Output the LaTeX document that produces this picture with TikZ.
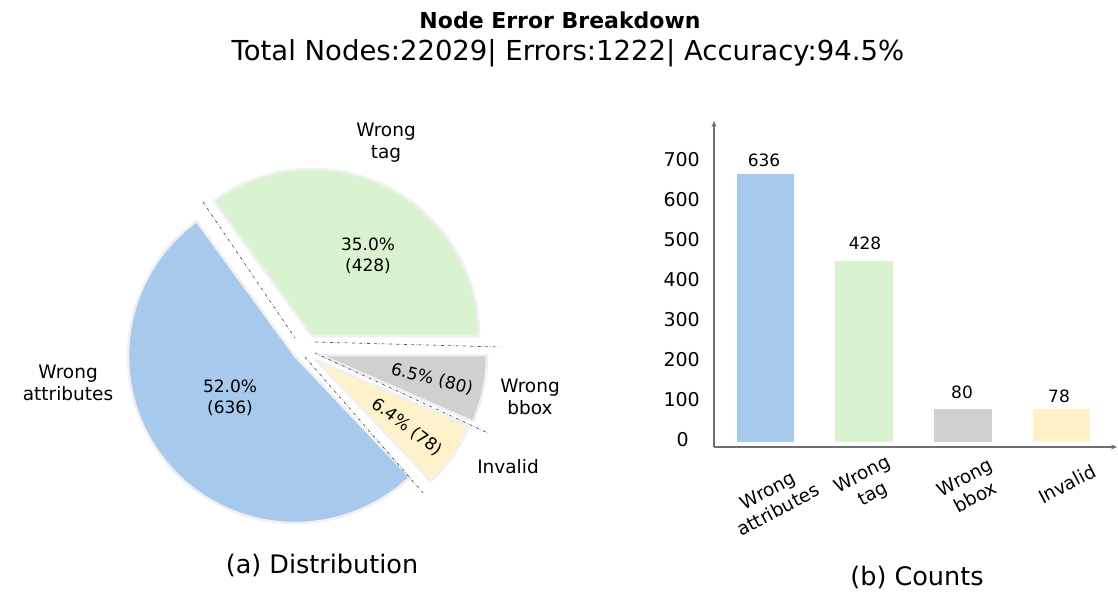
\documentclass[tikz,border=0pt]{standalone}
\usepackage{fontspec}
\setmainfont{DejaVu Sans}
\usetikzlibrary{arrows.meta}
\definecolor{cblue}{HTML}{A7C9EB}
\definecolor{cgreen}{HTML}{D9F2D0}
\definecolor{cgray}{HTML}{D0D0D0}
\definecolor{cyellow}{HTML}{FFF1CA}
\definecolor{caxis}{HTML}{6E6E6E}
\definecolor{cdash}{HTML}{555555}
\tikzset{
  lbl/.style={font=\fontsize{18.5}{22}\selectfont, align=center, inner sep=0pt},
  pct/.style={font=\fontsize{17}{21}\selectfont, align=center, inner sep=0pt},
  ticklbl/.style={font=\fontsize{19}{20}\selectfont, anchor=east, inner sep=0pt},
  captext/.style={font=\fontsize{25.5}{28}\selectfont, inner sep=0pt},
  sepline/.style={cdash, dash dot, line width=0.7pt},
  wedge/.style={draw=black!6, line width=2.5pt, line join=round},
  axisline/.style={caxis, line width=1.4pt, -{Stealth[length=6pt,width=5pt]}}
}
\begin{document}
\begin{tikzpicture}[x=1pt,y=-1pt]
\useasboundingbox (0,0) rectangle (1118,594);
\fill[white] (0,0) rectangle (1118,594);

% titles
\node[font=\fontsize{22}{26}\selectfont\bfseries, inner sep=0pt] (title) at (560,20) {Node Error Breakdown};
\node[font=\fontsize{27.5}{30}\selectfont, inner sep=0pt] (subtitle) at (568,53) {Total Nodes:22029| Errors:1222| Accuracy:94.5\%};

% pie apexes
\coordinate (aG) at (312,336);
\coordinate (aB) at (295,356);
\coordinate (aY) at (316,360);
\coordinate (aR) at (320,355);

\begin{scope}[shift={(aG)}, x=1pt, y=1pt]
  \filldraw[wedge, fill=cgreen] (0,0) -- (0:167) arc[start angle=0, end angle=126.1, radius=167] -- cycle;
\end{scope}
\begin{scope}[shift={(aB)}, x=1pt, y=1pt]
  \filldraw[wedge, fill=cblue] (0,0) -- (126.1:167) arc[start angle=126.1, end angle=313.5, radius=167] -- cycle;
\end{scope}
\begin{scope}[shift={(aY)}, x=1pt, y=1pt]
  \filldraw[wedge, fill=cyellow] (0,0) -- (313.5:167) arc[start angle=313.5, end angle=336.5, radius=167] -- cycle;
\end{scope}
\begin{scope}[shift={(aR)}, x=1pt, y=1pt]
  \filldraw[wedge, fill=cgray] (0,0) -- (336.5:167) arc[start angle=336.5, end angle=360, radius=167] -- cycle;
\end{scope}

% separators
\coordinate (s1a) at (203,202); \coordinate (s1b) at (295,338);
\coordinate (s2a) at (315,342); \coordinate (s2b) at (500,347);
\coordinate (s3a) at (315,353); \coordinate (s3b) at (488,433);
\coordinate (s4a) at (305,357); \coordinate (s4b) at (423,493);
\draw[sepline] (s1a) -- (s1b);
\draw[sepline] (s2a) -- (s2b);
\draw[sepline] (s3a) -- (s3b);
\draw[sepline] (s4a) -- (s4b);

% pie labels
\node[lbl] (ltag) at (386,143) {Wrong\\tag};
\node[pct] (ptag) at (368,256) {35.0\%\\(428)};
\node[pct] (patt) at (230,398) {52.0\%\\(636)};
\node[lbl] (latt) at (68,383) {Wrong\\attributes};
\node[pct, rotate=-14] (pbbox) at (432,379) {6.5\% (80)};
\node[pct, rotate=-37] (pinv) at (407,427) {6.4\% (78)};
\node[lbl] (lbbox) at (530,397) {Wrong\\bbox};
\node[lbl] (linv) at (508,467) {Invalid};
\node[captext] (capa) at (322,565) {(a) Distribution};

% bar chart axes
\coordinate (origin) at (714,447);
\coordinate (ytop) at (714,121);
\coordinate (xend) at (1117,447);
\draw[axisline] (origin) -- (ytop);
\draw[axisline] (origin) -- (xend);

% ticks
\node[ticklbl] (t700) at (700,160) {700};
\node[ticklbl] (t600) at (700,200) {600};
\node[ticklbl] (t500) at (700,240) {500};
\node[ticklbl] (t400) at (700,280) {400};
\node[ticklbl] (t300) at (700,320) {300};
\node[ticklbl] (t200) at (700,360) {200};
\node[ticklbl] (t100) at (700,400) {100};
\node[ticklbl] (t0) at (689,440) {0};

% bars
\fill[cblue] (737,174) rectangle (794,442);
\fill[cgreen] (835,261) rectangle (893,442);
\fill[cgray] (934,409) rectangle (992,442);
\fill[cyellow] (1033,409) rectangle (1090,442);

\node[pct] (v1) at (764,160) {636};
\node[pct] (v2) at (865,243) {428};
\node[pct] (v3) at (962,392) {80};
\node[pct] (v4) at (1059,396) {78};

% x labels
\node[lbl, rotate=28] (x1) at (773,500) {Wrong\\attributes};
\node[lbl, rotate=28] (x2) at (868,485) {Wrong\\tag};
\node[lbl, rotate=28] (x3) at (970,487) {Wrong\\bbox};
\node[lbl, rotate=28] (x4) at (1067,484) {Invalid};
\node[captext] (capb) at (917,577) {(b) Counts};
\end{tikzpicture}
\end{document}
